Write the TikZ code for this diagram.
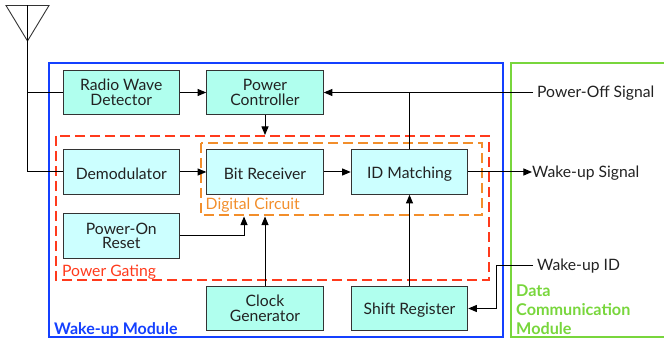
\documentclass[tikz,border=0pt]{standalone}
\usepackage{fontspec}
\setmainfont{Lato}
\usetikzlibrary{arrows,positioning,calc}
\definecolor{BLUE}{HTML}{1440FF}
\definecolor{GREEN}{HTML}{78D63C}
\definecolor{RED}{HTML}{FF3A1C}
\definecolor{ORANGE}{HTML}{F28E2B}
\definecolor{DARKCELL}{HTML}{B0FFEE}
\definecolor{LITECELL}{HTML}{CCFFFF}
\definecolor{INK}{HTML}{222222}

\begin{document}
\begin{tikzpicture}[x=1pt,y=-1pt,font=\fontsize{15.7}{14.5}\selectfont,text=INK]
\tikzstyle{cell}=[draw=black!80,line width=1.1pt,align=center,inner sep=0pt,minimum width=116.5pt,minimum height=44.5pt,execute at begin node={\rule{0pt}{15pt}}];
\tikzstyle{dark cell}=[cell,fill=DARKCELL];
\tikzstyle{lite cell}=[cell,fill=LITECELL];
\tikzstyle{myEdge}=[draw=black,line width=1pt,>=triangle 45];
\tikzstyle{zone}=[line width=2pt];
\tikzstyle{gating}=[draw=RED,line width=2pt,dash pattern=on 10pt off 5pt];
\tikzstyle{annot}=[anchor=west,inner sep=0pt];

\useasboundingbox (0,0) rectangle (664,344);

% modules
\draw[zone,draw=BLUE] (49,63.5) rectangle (503,337);
\draw[zone,draw=GREEN] (664,63.5) -- (510.5,63.5) -- (510.5,337) -- (664,337);
\draw[gating] (56,136) rectangle (489,280);
\draw[gating,draw=ORANGE] (200.5,143) rectangle (482,215);

% blocks
\node[dark cell] (detector) at (121.3,92.5) {Radio Wave\\Detector};
\node[dark cell] (controller) at (265,92.5) {Power\\Controller};
\node[lite cell] (demod) at (121.3,172) {Demodulator};
\node[lite cell] (receiver) at (265,172) {Bit Receiver};
\node[lite cell] (matching) at (409.5,172) {ID Matching};
\node[lite cell] (reset) at (121.3,236) {Power-On\\Reset};
\node[dark cell] (clock) at (265,308.5) {Clock\\Generator};
\node[dark cell] (shift) at (409.5,308.5) {Shift Register};

% labels
\node[annot,text=RED] (gateLabel) at (62,272) {Power Gating};
\node[annot,text=ORANGE] (digLabel) at (205.5,205) {Digital Circuit};
\node[annot,text=BLUE,font=\fontsize{16}{14.5}\selectfont\bfseries] (wakeLabel) at (54,329.5) {Wake-up Module};
\node[annot,text=GREEN,align=left,font=\fontsize{16.2}{19}\selectfont\bfseries] (dataLabel) at (516,310) {Data\\Communication\\Module};
\node[annot] (offLabel) at (537,93.5) {Power-Off Signal};
\node[annot] (sigLabel) at (532,173) {Wake-up Signal};
\node[annot] (idLabel) at (537,266) {Wake-up ID};

% antenna
\coordinate (antTop) at (27.5,5.5);
\coordinate (antTip) at (27.5,41);
\draw[draw=black!80,line width=0.9pt] (6,5.5) -- (49,5.5) -- (antTip) -- cycle;
\draw[myEdge] (antTop) -- (antTip) |- (demod.west);
\draw[myEdge] (27.5,92.5) -- (detector.west);

% signals
\coordinate (gateTop) at (265,135);
\coordinate (offEnd) at (533,92.5);
\coordinate (sigEnd) at (532,172);
\coordinate (idEnd) at (533,265.5);
\coordinate (dig1) at (244,216.5);
\coordinate (dig2) at (265,216.5);
\draw[myEdge,->] (detector) -- (controller);
\draw[myEdge,->] (controller) -- (gateTop);
\draw[myEdge,->] (offEnd) -- (controller.east);
\draw[myEdge] (409.5,92.5) -- (matching.north);
\draw[myEdge,->] (demod) -- (receiver);
\draw[myEdge,->] (receiver) -- (matching);
\draw[myEdge,->] (matching.east) -- (sigEnd);
\draw[myEdge,->] (reset.east) -| (dig1);
\draw[myEdge,->] (clock.north) -- (dig2);
\draw[myEdge,->] (shift.north) -- (matching.south);
\draw[myEdge,->] (idEnd) -- (496,265.5) |- (shift.east);
\end{tikzpicture}
\end{document}
